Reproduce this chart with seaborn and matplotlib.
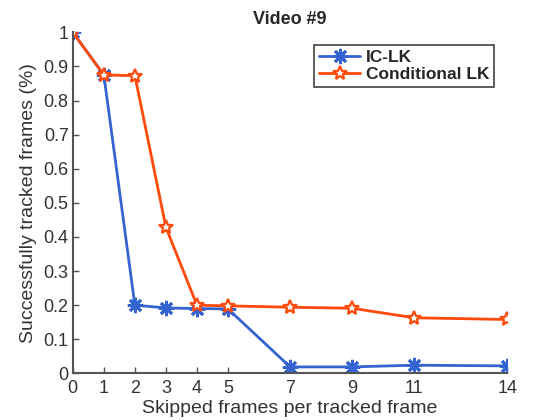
import numpy as np
import pandas as pd
import matplotlib
matplotlib.use("Agg")
import matplotlib.pyplot as plt
import seaborn as sns

skipped = [0, 1, 2, 3, 4, 5, 7, 9, 11, 14]
ic_lk = [1.0, 0.875, 0.200, 0.192, 0.190, 0.189, 0.019, 0.019, 0.024, 0.022]
cond_lk = [1.0, 0.875, 0.873, 0.428, 0.200, 0.198, 0.194, 0.191, 0.163, 0.158]
series_names = ["IC-LK", "Conditional LK"]
x_ticks = [0, 1, 2, 3, 4, 5, 7, 9, 11, 14]
y_ticks = [0, 0.1, 0.2, 0.3, 0.4, 0.5, 0.6, 0.7, 0.8, 0.9, 1.0]
y_tick_labels = ["0", "0.1", "0.2", "0.3", "0.4", "0.5", "0.6", "0.7", "0.8", "0.9", "1"]

df = pd.DataFrame({
    "x": skipped * 2,
    "y": ic_lk + cond_lk,
    "method": [series_names[0]] * len(skipped) + [series_names[1]] * len(skipped),
})

sns.set_theme(style="white")
plt.rcParams["font.family"] = ["Liberation Sans", "DejaVu Sans"]

colors = {"IC-LK": "#3464D2", "Conditional LK": "#FF4A0A"}

fig = plt.figure(figsize=(5.6, 4.2), dpi=100)
ax = fig.add_axes([0.130, 0.111, 0.776, 0.812])

for name, mk in zip(series_names, [(8, 2, 0), "*"]):
    sub = df[df["method"] == name]
    sns.lineplot(data=sub, x="x", y="y", ax=ax, color=colors[name], lw=2,
                 marker=mk, markersize=11 if name == "IC-LK" else 10,
                 markeredgewidth=2 if name == "IC-LK" else 1.6,
                 markerfacecolor=colors[name] if name == "IC-LK" else "white",
                 markeredgecolor=colors[name], label=name, legend=False)

ax.set_xlim(0, 14)
ax.set_ylim(0, 1)
ax.set_xticks(x_ticks)
ax.set_xticklabels([str(v) for v in x_ticks])
ax.set_yticks(y_ticks)
ax.set_yticklabels(y_tick_labels)
for s in ["top", "right"]:
    ax.spines[s].set_visible(False)
for s in ["left", "bottom"]:
    ax.spines[s].set_color("#555555")
    ax.spines[s].set_linewidth(1.5)
ax.tick_params(direction="in", length=4, width=1, color="#555555",
               labelsize=13, labelcolor="#333333", pad=3, left=True, bottom=True)
ax.tick_params(axis="x", pad=5)
ax.set_xlabel("Skipped frames per tracked frame", fontsize=14, color="#333333", labelpad=2)
ax.set_ylabel("Successfully tracked frames (%)", fontsize=14, color="#333333", labelpad=5)
ax.set_title("Video #9", fontsize=13, fontweight="bold", pad=6)

handles = [
    plt.Line2D([], [], color=colors["IC-LK"], lw=2, marker=(8, 2, 0), markersize=11,
               markeredgewidth=2, markeredgecolor=colors["IC-LK"]),
    plt.Line2D([], [], color=colors["Conditional LK"], lw=2, marker="*", markersize=10,
               markeredgewidth=1.6, markerfacecolor="white", markeredgecolor=colors["Conditional LK"]),
]
leg = ax.legend(handles, series_names, loc="upper right", bbox_to_anchor=(0.97, 0.963),
                frameon=True, fancybox=False, edgecolor="#444444", framealpha=1,
                prop={"weight": "bold", "size": 12.5}, handlelength=2.4, handletextpad=0.3,
                borderpad=0.3, labelspacing=0.1, borderaxespad=0)
leg.get_frame().set_linewidth(1.2)

fig.savefig("out.png", dpi=100)
